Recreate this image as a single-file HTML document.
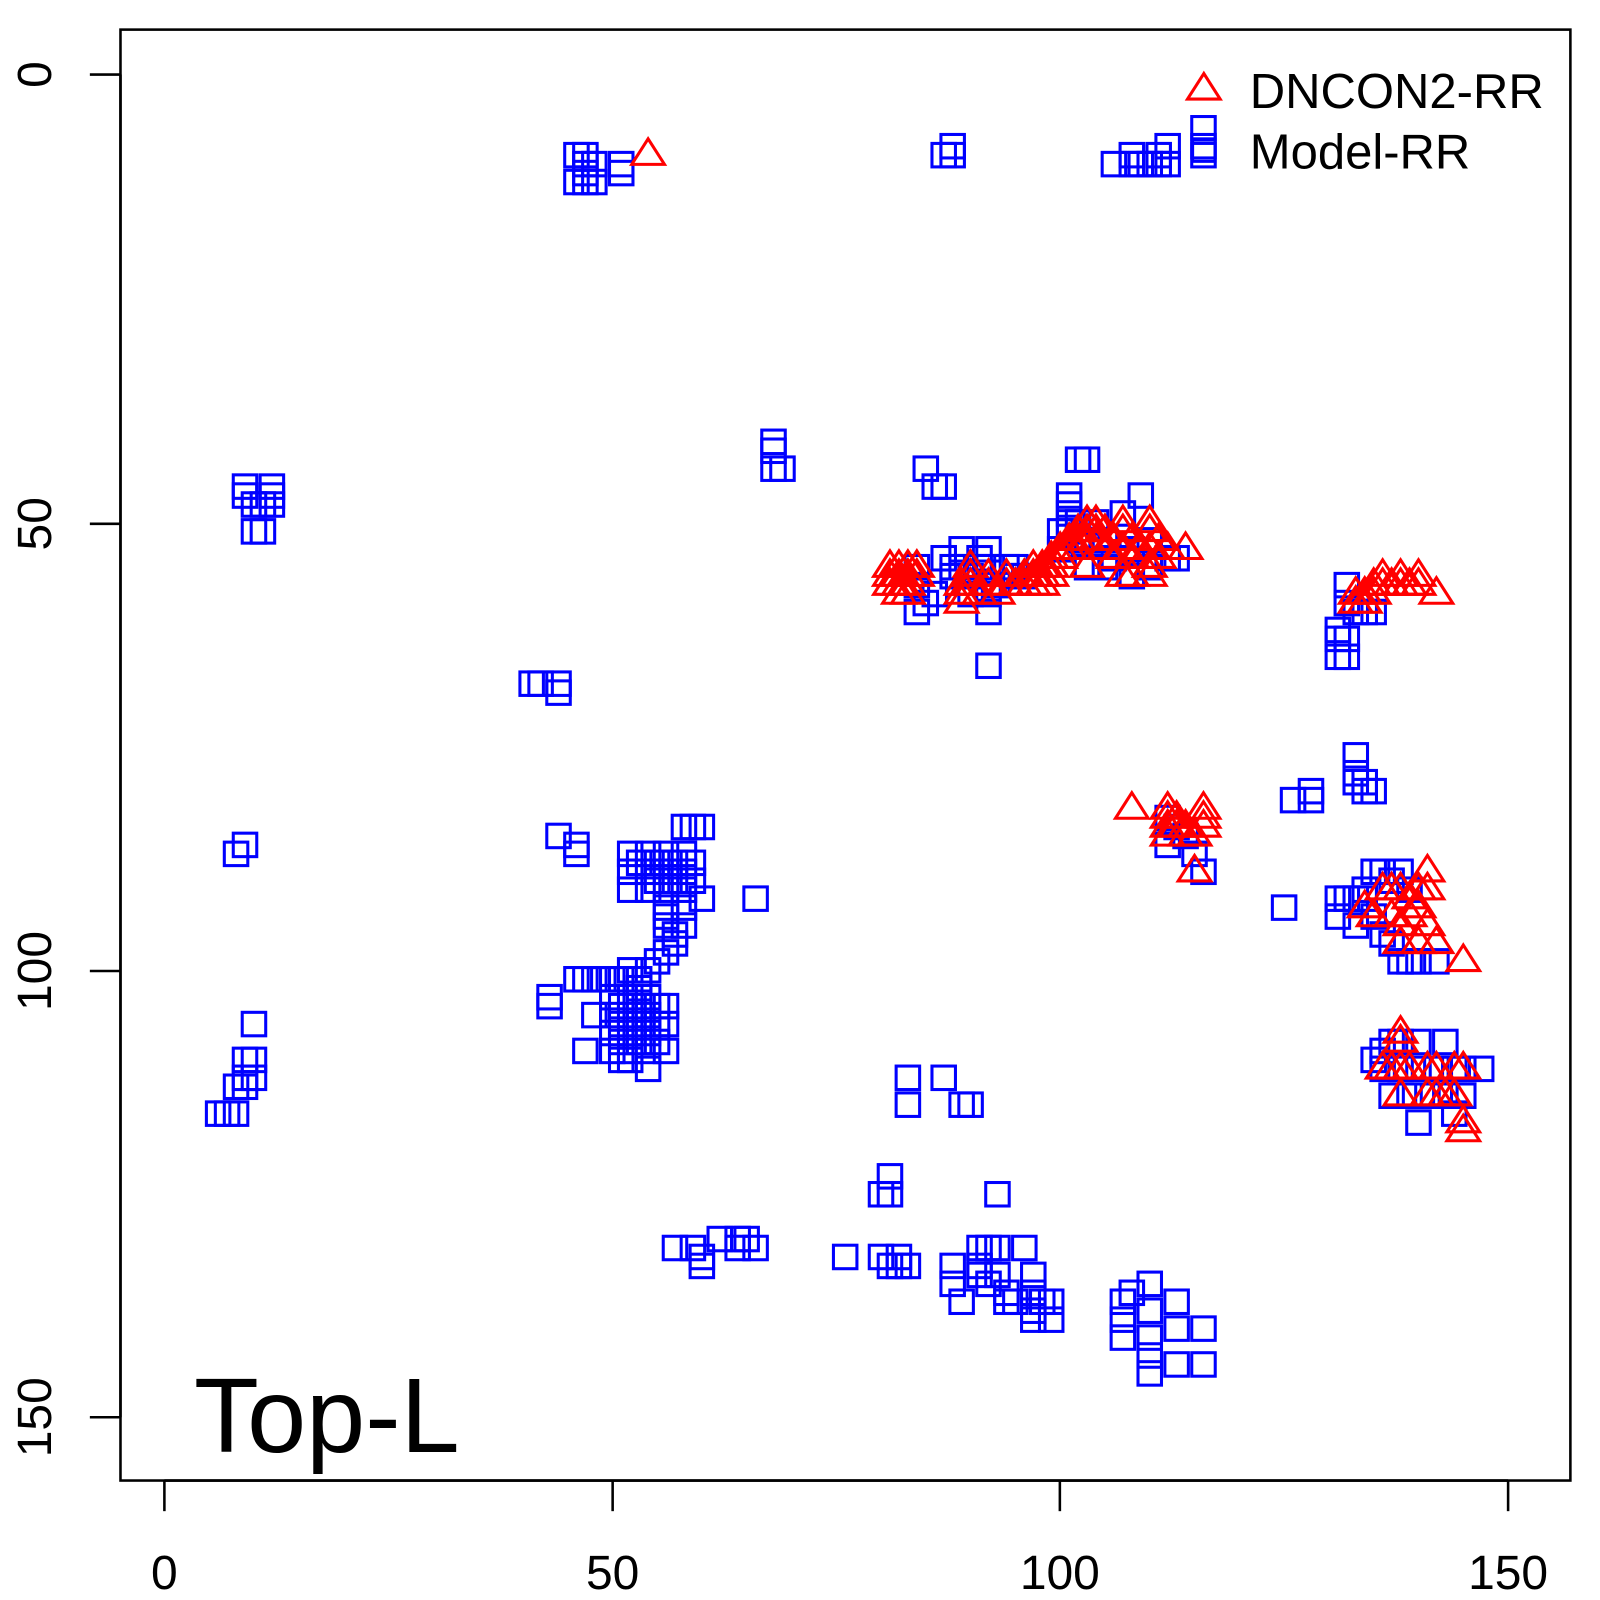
<!DOCTYPE html>
<html><head><meta charset="utf-8"><style>html,body{margin:0;padding:0;background:#fff}svg{display:block}</style></head>
<body>
<svg id="s" xmlns="http://www.w3.org/2000/svg" width="1600" height="1600" viewBox="0 0 1567 1567">
<rect x="0" y="0" width="1567" height="1567" fill="#fff"/>
<g id="pts"></g>
<rect x="118" y="29" width="1420" height="1421" fill="none" stroke="#000" stroke-width="2.5"/>
<g stroke="#000" stroke-width="2.5">
<line x1="161" y1="1450" x2="1477" y2="1450"/>
<line x1="161" y1="1450" x2="161" y2="1480"/>
<line x1="600" y1="1450" x2="600" y2="1480"/>
<line x1="1038" y1="1450" x2="1038" y2="1480"/>
<line x1="1477" y1="1450" x2="1477" y2="1480"/>
<line x1="118" y1="73" x2="118" y2="1388"/>
<line x1="88" y1="73" x2="118" y2="73"/>
<line x1="88" y1="513" x2="118" y2="513"/>
<line x1="88" y1="951" x2="118" y2="951"/>
<line x1="88" y1="1388" x2="118" y2="1388"/>
</g>
<g font-family="Liberation Sans, sans-serif" font-size="47" text-anchor="middle" fill="#000">
<text x="161" y="1556">0</text>
<text x="600" y="1556">50</text>
<text x="1038" y="1556">100</text>
<text x="1477" y="1556">150</text>
<text transform="translate(50,73) rotate(-90)">0</text>
<text transform="translate(50,513) rotate(-90)">50</text>
<text transform="translate(50,951) rotate(-90)">100</text>
<text transform="translate(50,1388) rotate(-90)">150</text>
</g>
<text x="190" y="1422" font-family="Liberation Sans, sans-serif" font-size="104" fill="#000">Top-L</text>
<g font-family="Liberation Sans, sans-serif" font-size="48" fill="#000">
<text x="1224" y="106">DNCON2-RR</text>
<text x="1224" y="165">Model-RR</text>
</g>
<polygon points="1179,72 1163,97 1195,97" fill="none" stroke="#f00" stroke-width="3"/>
<rect x="1168" y="136" width="22" height="22" fill="none" stroke="#00f" stroke-width="3"/>
</svg>
<script>
var sq=[[46,9],[46,12],[47,9],[47,10],[47,11],[47,12],[48,10],[48,12],[51,10],[51,11],
[87,9],[88,8],[88,9],
[106,10],[108,9],[108,10],[109,10],[110,10],[111,9],[111,10],[112,8],[112,10],[116,6],[116,8],[116,9],
[9,46],[9,47],[10,48],[11,48],[12,46],[12,47],[12,48],[10,51],[11,51],
[68,41],[68,42],[68,44],[69,44],[85,44],[86,46],[87,46],[102,43],[103,43],
[100,51],[100,53],[101,47],[101,48],[101,49],[101,50],[101,51],[102,50],[102,52],[103,52],[104,50],[105,52],[106,54],[107,49],[108,53],[109,47],[110,52],[110,55],[112,54],[113,54],[103,55],[105,55],[108,56],
[84,55],[84,57],[84,60],[85,59],[86,58],[88,55],[88,56],[89,53],[89,55],[90,56],[91,54],[91,55],[92,53],[92,55],[92,58],[92,60],[93,57],[94,55],[95,55],[95,56],[96,56],[92,66],[87,54],[90,58],
[131,62],[131,63],[131,65],[132,63],[132,65],[132,57],[132,59],[133,60],[134,60],[135,60],
[41,68],[42,68],[44,68],[44,69],
[133,76],[133,78],[133,79],[134,79],[134,80],[135,80],[128,80],[126,81],[128,81],
[8,87],[9,86],[44,85],[46,86],[46,87],[58,84],[59,84],[60,84],
[52,87],[52,89],[52,91],[53,88],[54,87],[54,89],[54,91],[55,88],[55,90],[56,87],[56,89],[56,91],[57,88],[57,90],[58,87],[58,89],[58,91],[59,88],[59,90],[60,92],[56,93],[56,94],[56,95],[57,96],[57,97],[56,98],[58,93],[58,95],
[66,92],[112,83],[113,84],[114,85],[115,87],[116,89],[112,86],[125,93],
[131,92],[131,94],[132,92],[133,92],[134,91],[134,92],[135,89],[136,89],[137,90],[138,89],[139,91],[133,95],[135,94],[136,96],[137,97],[138,99],[139,99],[140,99],[142,99],
[6,116],[7,116],[8,116],[8,113],[9,112],[9,113],[10,112],[10,110],[10,106],[9,110],
[43,103],[43,104],
[46,101],[47,101],[48,101],[49,101],[50,101],[51,101],[52,100],[53,101],[54,100],[55,99],[48,105],[47,109],[50,103],[50,105],[50,107],[50,109],[51,104],[51,106],[51,108],[52,103],[52,105],[52,107],[52,109],[53,104],[53,106],[53,108],[54,103],[54,105],[54,107],[54,109],[55,104],[55,106],[55,108],[56,104],[56,106],[56,109],[54,111],[52,110],[51,110],[53,102],
[136,109],[137,108],[138,108],[140,108],[143,108],[135,110],[136,111],[138,111],[140,111],[142,111],[144,111],[145,111],[147,111],[137,114],[139,114],[141,114],[143,114],[145,114],[140,117],[144,116],
[83,112],[83,115],[87,112],[89,115],[90,115],[93,125],[81,123],[80,125],[81,125],
[57,131],[59,131],[60,132],[60,133],[62,130],[64,130],[65,130],[66,131],[64,131],
[76,132],[80,132],[81,133],[82,133],[83,133],[82,132],
[88,133],[88,135],[89,137],[91,131],[91,133],[91,134],[92,131],[92,135],[93,131],[93,134],[94,136],[94,137],[96,131],[97,134],[97,136],[97,138],[98,137],[99,137],[99,139],[97,139],[95,137],
[107,137],[107,139],[107,141],[108,136],[110,135],[110,138],[110,141],[110,143],[110,145],[113,137],[113,140],[113,144],[116,140],[116,144]];
var tr=[[54,9],
[81,55],[81,56],[81,57],[82,55],[82,56],[82,57],[83,55],[83,56],[83,57],[84,55],[84,56],[82,58],[83,58],
[89,57],[89,58],[89,59],[90,55],[90,56],[90,57],[91,58],[92,56],[92,57],[93,58],[94,56],[94,57],[95,57],[96,57],[96,56],[97,55],[97,56],[97,57],[98,55],[98,56],[98,57],[99,54],[99,55],[99,56],
[100,53],[100,54],[101,52],[101,53],[102,51],[102,52],[102,53],[103,50],[103,51],[103,52],[103,55],[104,50],[104,51],[104,52],[105,51],[105,53],[106,52],[106,54],[107,50],[107,51],[107,53],[107,56],[108,52],[108,54],[108,56],[109,53],[110,50],[110,51],[110,53],[110,55],[110,56],[111,52],[111,54],[112,53],[114,53],
[133,58],[133,59],[134,58],[134,59],[135,57],[135,58],[136,56],[136,57],[137,57],[138,56],[138,57],[139,57],[140,56],[140,57],[142,58],
[108,82],[112,82],[112,83],[112,84],[112,85],[113,83],[113,84],[114,84],[114,85],[115,85],[116,82],[116,83],[116,84],[115,89],
[141,89],[134,93],[136,91],[137,91],[138,91],[139,92],[140,91],[141,91],[140,93],[135,94],[137,94],[138,95],[139,94],[141,95],[138,97],[140,97],[142,97],[145,99],
[138,107],[138,108],[136,111],[137,111],[138,111],[139,111],[141,111],[142,111],[144,111],[145,111],[138,114],[141,114],[142,114],[143,114],[144,114],[145,117],[145,118]];
var g=document.getElementById('pts'),h='';
function X(i){return 161+8.773*i}function Y(j){return 73+8.773*j}
sq.forEach(function(p){var x=X(p[0]),y=Y(p[1]);h+='<rect x="'+(x-11.5)+'" y="'+(y-11.5)+'" width="23" height="23" fill="none" stroke="#00f" stroke-width="3"/>';});
tr.forEach(function(p){var x=X(p[0]),y=Y(p[1]);h+='<polygon points="'+x+','+(y-16)+' '+(x-16)+','+(y+9)+' '+(x+16)+','+(y+9)+'" fill="none" stroke="#f00" stroke-width="3"/>';});
g.innerHTML=h;
</script>
</body></html>
